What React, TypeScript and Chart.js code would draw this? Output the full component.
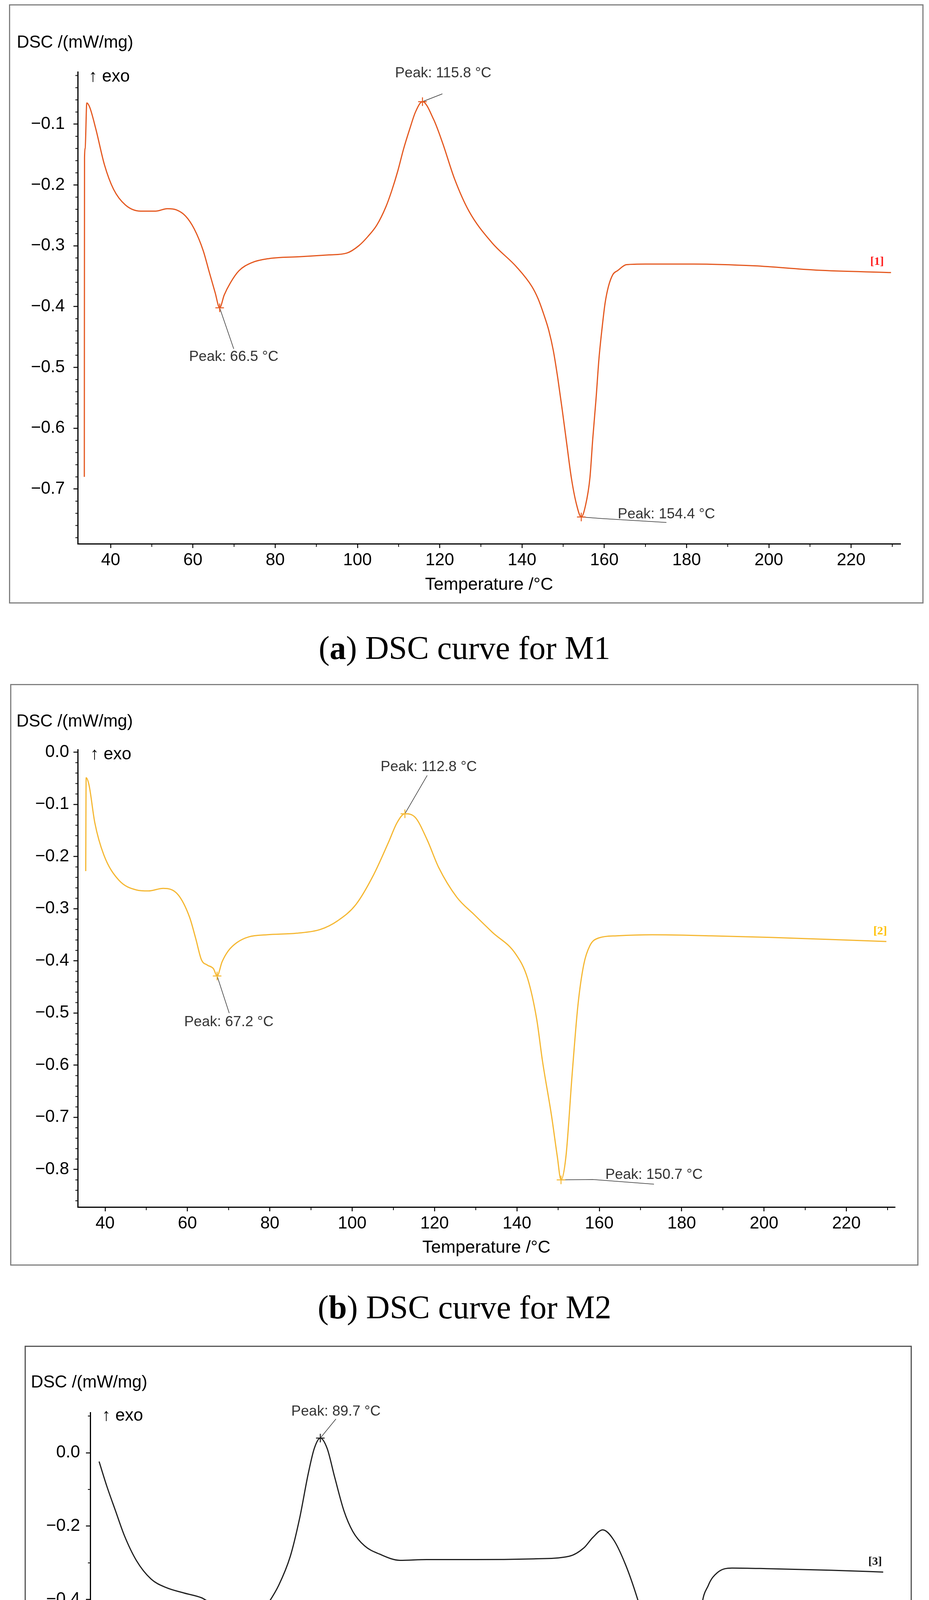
import React, { useEffect, useRef } from "react";
import { Chart, registerables } from "chart.js";

Chart.register(...registerables);

// ---------------- data ----------------
const tempTicks = [40, 60, 80, 100, 120, 140, 160, 180, 200, 220];

const m1Temp = [
  33.6, 33.65, 33.8, 34.2, 34.9, 36.4, 38.5, 40.7, 43.6, 47.3, 50.9, 53.8, 56.0, 58.2, 60.3, 62.5, 64.0,
  65.4, 66.5, 67.6, 69.1, 71.2, 74.2, 78.5, 85.8, 93.1, 97.4, 100.3, 102.5, 104.7, 106.9, 108.3, 109.8,
  111.2, 112.7, 114.1, 115.8, 118.5, 120.7, 123.6, 127.1, 132.7, 138.7, 142.4, 143.9, 145.3, 146.5, 147.6,
  148.7, 149.8, 150.9, 152.0, 153.2, 154.4, 155.4, 156.5, 157.2, 158.0, 158.7, 159.5, 160.2, 161.0, 162.1,
  163.2, 165.4, 170.0, 181.8, 196.6, 211.5, 229.7,
];
const m1Dsc = [
  -0.68, -0.155, -0.14, -0.065, -0.072, -0.108, -0.167, -0.207, -0.233, -0.243, -0.243, -0.239, -0.241,
  -0.251, -0.272, -0.308, -0.344, -0.377, -0.402, -0.381, -0.361, -0.341, -0.328, -0.321, -0.318, -0.315,
  -0.312, -0.3, -0.285, -0.266, -0.236, -0.21, -0.177, -0.141, -0.108, -0.08, -0.063, -0.092, -0.131,
  -0.19, -0.243, -0.295, -0.335, -0.367, -0.387, -0.413, -0.439, -0.472, -0.518, -0.571, -0.627, -0.682,
  -0.724, -0.746, -0.728, -0.682, -0.617, -0.551, -0.486, -0.433, -0.394, -0.367, -0.347, -0.341, -0.331,
  -0.33, -0.33, -0.333, -0.34, -0.344,
];
const m1YTicks = [-0.7, -0.6, -0.5, -0.4, -0.3, -0.2, -0.1];
const m1PeakTemp = [66.5, 115.8, 154.4];
const m1PeakDsc = [-0.402, -0.063, -0.746];

const m2Temp = [
  35.3, 35.4, 36.1, 37.5, 39.7, 43.3, 47.6, 50.5, 54.1, 57.7, 60.5, 62.0, 63.4, 64.8, 66.3, 67.2, 68.4,
  69.9, 72.0, 74.9, 79.3, 86.5, 92.2, 96.5, 100.9, 105.2, 108.8, 110.9, 112.8, 115.3, 118.2, 121.0, 125.4,
  129.7, 134.0, 139.7, 142.6, 144.8, 146.2, 148.4, 149.8, 150.7, 151.9, 153.4, 154.8, 156.2, 157.7, 159.9,
  164.2, 172.8, 187.2, 201.6, 216.0, 229.7,
];
const m2Dsc = [
  -0.228, -0.049, -0.063, -0.135, -0.197, -0.245, -0.264, -0.266, -0.261, -0.273, -0.316, -0.357, -0.398,
  -0.408, -0.415, -0.429, -0.402, -0.381, -0.365, -0.354, -0.35, -0.347, -0.34, -0.323, -0.292, -0.235,
  -0.173, -0.135, -0.118, -0.125, -0.168, -0.221, -0.278, -0.312, -0.345, -0.387, -0.434, -0.512, -0.592,
  -0.697, -0.775, -0.82, -0.775, -0.618, -0.486, -0.408, -0.371, -0.356, -0.352, -0.35, -0.352, -0.355,
  -0.359, -0.363,
];
const m2YTicks = [-0.8, -0.7, -0.6, -0.5, -0.4, -0.3, -0.2, -0.1, 0.0];
const m2PeakTemp = [67.2, 112.8, 150.7];
const m2PeakDsc = [-0.429, -0.118, -0.82];

const m3Temp = [
  34.4, 36.3, 38.5, 40.7, 43.7, 47.4, 51.1, 55.6, 60.0, 62.2, 64.5, 66.7, 68.9, 70.4, 72.6, 75.6, 79.3,
  82.2, 84.5, 86.7, 88.2, 89.7, 91.4, 93.3, 95.6, 97.8, 100.8, 104.5, 109.6, 116.3, 128.2, 143.0, 151.9,
  155.6, 157.8, 160.3, 163.0, 166.0, 168.9, 171.9, 174.1, 176.3, 178.3, 179.3, 181.5, 182.7, 183.7, 184.9,
  186.7, 188.9, 192.6, 202.3, 217.1, 230.4,
];
const m3Dsc = [
  -0.024, -0.09, -0.158, -0.225, -0.293, -0.344, -0.367, -0.382, -0.395, -0.407, -0.41, -0.441, -0.486,
  -0.522, -0.486, -0.429, -0.361, -0.282, -0.18, -0.056, 0.012, 0.04, 0.012, -0.067, -0.158, -0.214, -0.254,
  -0.276, -0.293, -0.291, -0.291, -0.289, -0.282, -0.259, -0.231, -0.21, -0.237, -0.305, -0.395, -0.509,
  -0.633, -0.781, -0.939, -1.028, -0.939, -0.769, -0.599, -0.429, -0.361, -0.327, -0.314, -0.316, -0.32,
  -0.325,
];
const m3YTicks = [-1.0, -0.8, -0.6, -0.4, -0.2, 0.0];
const m3PeakTemp = [70.4, 89.7, 179.3];
const m3PeakDsc = [-0.522, 0.04, -1.028];

const captionLetters = ["a", "b", "c"];
const captionTexts = ["DSC curve for M1", "DSC curve for M2", "DSC curve for M3"];
const curveTags = ["[1]", "[2]", "[3]"];

// ---------------- layout / style ----------------
const SANS = "'Liberation Sans', Arial, sans-serif";
const SERIF = "'Liberation Serif', 'Times New Roman', serif";

type PeakLayout = { end: [number, number]; bend?: [number, number]; text: [number, number] };

type Panel = {
  key: string;
  temp: number[];
  dsc: number[];
  yTicks: number[];
  peakTemp: number[];
  peakDsc: number[];
  tag: string;
  canvas: { left: number; top: number; w: number; h: number };
  area: { left: number; right: number; top: number; bottom: number };
  xMin: number;
  xMax: number;
  yMin: number;
  yMax: number;
  yMajor: number;
  yMinor: number;
  xMinor: number;
  yTickPad: number;
  xTickPad: number;
  titlePad: number;
  color: string;
  tagColor: string;
  tagPos: [number, number];
  dscPos: [number, number];
  exoPos: [number, number];
  frameColor: string;
  peaks: PeakLayout[];
  captionTop: number;
};

const panels: Panel[] = [
  {
    key: "a",
    temp: m1Temp,
    dsc: m1Dsc,
    yTicks: m1YTicks,
    peakTemp: m1PeakTemp,
    peakDsc: m1PeakDsc,
    tag: curveTags[0],
    canvas: { left: 23, top: 11, w: 2341, h: 1534 },
    area: { left: 199, right: 2305, top: 184, bottom: 1392 },
    xMin: 32,
    xMax: 232,
    yMin: -0.79,
    yMax: -0.014,
    yMajor: 0.1,
    yMinor: 0.02,
    xMinor: 10,
    yTickPad: 22,
    xTickPad: 5,
    titlePad: 20,
    color: "#E4571E",
    tagColor: "#FF1A1A",
    tagPos: [2245, 670],
    dscPos: [43, 110],
    exoPos: [227, 197],
    frameColor: "#808080",
    peaks: [
      { end: [36, 105], text: [36, 126] },
      { end: [51, -20], text: [53, -72] },
      { bend: [53, 4], end: [218, 14], text: [218, -7] },
    ],
    captionTop: 1609,
  },
  {
    key: "b",
    temp: m2Temp,
    dsc: m2Dsc,
    yTicks: m2YTicks,
    peakTemp: m2PeakTemp,
    peakDsc: m2PeakDsc,
    tag: curveTags[1],
    canvas: { left: 26, top: 1751, w: 2325, h: 1489 },
    area: { left: 199, right: 2291, top: 1919, bottom: 3090 },
    xMin: 33.36,
    xMax: 231.8,
    yMin: -0.872,
    yMax: 0.005,
    yMajor: 0.1,
    yMinor: 0.02,
    xMinor: 10,
    yTickPad: 11,
    xTickPad: 5,
    titlePad: 18,
    color: "#F5B731",
    tagColor: "#FFC000",
    tagPos: [2253, 2384],
    dscPos: [42, 1848],
    exoPos: [231, 1932],
    frameColor: "#808080",
    peaks: [
      { end: [31, 95], text: [30, 118] },
      { end: [57, -98], text: [61, -119] },
      { bend: [81, -1], end: [238, 11], text: [238, -13] },
    ],
    captionTop: 3297,
  },
  {
    key: "c",
    temp: m3Temp,
    dsc: m3Dsc,
    yTicks: m3YTicks,
    peakTemp: m3PeakTemp,
    peakDsc: m3PeakDsc,
    tag: curveTags[2],
    canvas: { left: 63, top: 3445, w: 2271, h: 1455 },
    area: { left: 231, right: 2272, top: 3616, bottom: 4751 },
    xMin: 32.19,
    xMax: 231.5,
    yMin: -1.098,
    yMax: 0.1096,
    yMajor: 0.2,
    yMinor: 0.1,
    xMinor: 10,
    yTickPad: 15,
    xTickPad: 5,
    titlePad: 19,
    color: "#1E1E1E",
    tagColor: "#111111",
    tagPos: [2240, 3998],
    dscPos: [79, 3540],
    exoPos: [261, 3625],
    frameColor: "#555555",
    peaks: [
      { end: [27, 127], text: [25, 152] },
      { end: [40, -49], text: [40, -68] },
      { end: [213, 0], text: [211, -22] },
    ],
    captionTop: 4961,
  },
];

function fmtY(v: number): string {
  if (Math.abs(v) < 1e-9) return "0.0";
  return (v < 0 ? "\u2212" : "") + Math.abs(v).toFixed(1);
}

function isMultiple(v: number, step: number): boolean {
  const r = v / step;
  return Math.abs(r - Math.round(r)) < 1e-6;
}

function makePlugin(p: Panel) {
  return {
    id: "dscDecor_" + p.key,
    beforeDraw(chart: any) {
      const ctx = chart.ctx as CanvasRenderingContext2D;
      ctx.save();
      ctx.fillStyle = "#ffffff";
      ctx.fillRect(0, 0, chart.width, chart.height);
      ctx.strokeStyle = p.frameColor;
      ctx.lineWidth = 3;
      ctx.strokeRect(1.5, 1.5, chart.width - 3, chart.height - 3);
      ctx.restore();
    },
    afterDraw(chart: any) {
      const ctx = chart.ctx as CanvasRenderingContext2D;
      const ca = chart.chartArea;
      const xs = chart.scales.x;
      const ys = chart.scales.y;
      const ox = p.canvas.left;
      const oy = p.canvas.top;
      ctx.save();

      // minor ticks
      ctx.strokeStyle = "#000";
      ctx.lineWidth = 2;
      const yStart = Math.ceil(ys.min / p.yMinor - 1e-6);
      for (let i = yStart; i * p.yMinor <= ys.max + 1e-9; i++) {
        const v = i * p.yMinor;
        if (isMultiple(v, p.yMajor)) continue;
        const py = ys.getPixelForValue(v);
        ctx.beginPath();
        ctx.moveTo(ca.left - 6, py);
        ctx.lineTo(ca.left, py);
        ctx.stroke();
      }
      const xStart = Math.ceil(xs.min / p.xMinor - 1e-6);
      for (let i = xStart; i * p.xMinor <= xs.max + 1e-9; i++) {
        const v = i * p.xMinor;
        if (tempTicks.includes(v)) continue;
        const px = xs.getPixelForValue(v);
        ctx.beginPath();
        ctx.moveTo(px, ca.bottom);
        ctx.lineTo(px, ca.bottom + 8);
        ctx.stroke();
      }

      // axis caption texts
      ctx.fillStyle = "#000";
      ctx.font = `44px ${SANS}`;
      ctx.textAlign = "left";
      ctx.textBaseline = "middle";
      ctx.fillText("DSC /(mW/mg)", p.dscPos[0] - ox, p.dscPos[1] - oy);
      ctx.fillText("\u2191 exo", p.exoPos[0] - ox, p.exoPos[1] - oy);

      // curve tag
      ctx.font = `bold 30px ${SERIF}`;
      ctx.fillStyle = p.tagColor;
      ctx.textAlign = "center";
      ctx.fillText(p.tag, p.tagPos[0] - ox, p.tagPos[1] - oy);

      // peaks
      p.peakTemp.forEach((t, i) => {
        const v = p.peakDsc[i];
        const lay = p.peaks[i];
        const mx = xs.getPixelForValue(t);
        const my = ys.getPixelForValue(v);
        ctx.strokeStyle = "#333";
        ctx.lineWidth = 1.5;
        ctx.beginPath();
        ctx.moveTo(mx, my);
        if (lay.bend) ctx.lineTo(mx + lay.bend[0], my + lay.bend[1]);
        ctx.lineTo(mx + lay.end[0], my + lay.end[1]);
        ctx.stroke();
        ctx.fillStyle = "#333";
        ctx.font = `37px ${SANS}`;
        ctx.textAlign = "center";
        ctx.textBaseline = "middle";
        ctx.fillText(`Peak: ${t.toFixed(1)} \u00B0C`, mx + lay.text[0], my + lay.text[1]);
        ctx.strokeStyle = p.color;
        ctx.lineWidth = 2.5;
        ctx.beginPath();
        ctx.moveTo(mx - 11, my);
        ctx.lineTo(mx + 11, my);
        ctx.moveTo(mx, my - 11);
        ctx.lineTo(mx, my + 11);
        ctx.stroke();
      });
      ctx.restore();
    },
  };
}

function DscPanel({ p }: { p: Panel }) {
  const ref = useRef<HTMLCanvasElement | null>(null);
  useEffect(() => {
    if (!ref.current) return;
    const c = p.canvas;
    const a = p.area;
    const chart = new Chart(ref.current, {
      type: "line",
      data: {
        datasets: [
          {
            data: p.temp.map((t, i) => ({ x: t, y: p.dsc[i] })),
            borderColor: p.color,
            borderWidth: 3,
            pointRadius: 0,
            fill: false,
            cubicInterpolationMode: "monotone",
          } as any,
        ],
      },
      options: {
        responsive: false,
        animation: false,
        devicePixelRatio: 1,
        events: [],
        layout: {
          padding: { left: 0, top: a.top - c.top, right: c.left + c.w - a.right, bottom: 0 },
        },
        plugins: { legend: { display: false }, tooltip: { enabled: false }, title: { display: false } },
        scales: {
          x: {
            type: "linear",
            min: p.xMin,
            max: p.xMax,
            afterBuildTicks: (s: any) => {
              s.ticks = tempTicks.map((value) => ({ value }));
            },
            afterFit: (s: any) => {
              s.height = c.top + c.h - a.bottom;
            },
            ticks: {
              autoSkip: false,
              maxRotation: 0,
              padding: p.xTickPad,
              color: "#000",
              font: { family: SANS, size: 44 },
              callback: (v: any) => String(v),
            },
            grid: { display: true, drawOnChartArea: false, drawTicks: true, tickLength: 11, tickWidth: 2.5, tickColor: "#000" },
            border: { display: true, color: "#000", width: 3 },
            title: {
              display: true,
              text: "Temperature /\u00B0C",
              color: "#000",
              font: { family: SANS, size: 45 },
              padding: { top: 0, bottom: p.titlePad },
            },
          },
          y: {
            type: "linear",
            min: p.yMin,
            max: p.yMax,
            afterBuildTicks: (s: any) => {
              s.ticks = p.yTicks.map((value) => ({ value }));
            },
            afterFit: (s: any) => {
              s.width = a.left - c.left;
            },
            ticks: {
              autoSkip: false,
              padding: p.yTickPad,
              color: "#000",
              font: { family: SANS, size: 44 },
              callback: (v: any) => fmtY(Number(v)),
            },
            grid: { display: true, drawOnChartArea: false, drawTicks: true, tickLength: 11, tickWidth: 2.5, tickColor: "#000" },
            border: { display: true, color: "#000", width: 3 },
          },
        },
      } as any,
      plugins: [makePlugin(p) as any],
    });
    return () => chart.destroy();
  }, [p]);
  return (
    <canvas
      ref={ref}
      width={p.canvas.w}
      height={p.canvas.h}
      style={{ position: "absolute", left: p.canvas.left, top: p.canvas.top, width: p.canvas.w, height: p.canvas.h }}
    />
  );
}

export default function App() {
  return (
    <div style={{ position: "absolute", left: 0, top: 0, width: 2378, height: 5100, background: "#fff" }}>
      {panels.map((p, i) => (
        <React.Fragment key={p.key}>
          <DscPanel p={p} />
          <div
            style={{
              position: "absolute",
              left: 0,
              top: p.captionTop,
              width: 2378,
              textAlign: "center",
              fontFamily: SERIF,
              fontSize: 84,
              lineHeight: "100px",
              color: "#000",
              whiteSpace: "nowrap",
            }}
          >
            (<b>{captionLetters[i]}</b>) {captionTexts[i]}
          </div>
        </React.Fragment>
      ))}
    </div>
  );
}
